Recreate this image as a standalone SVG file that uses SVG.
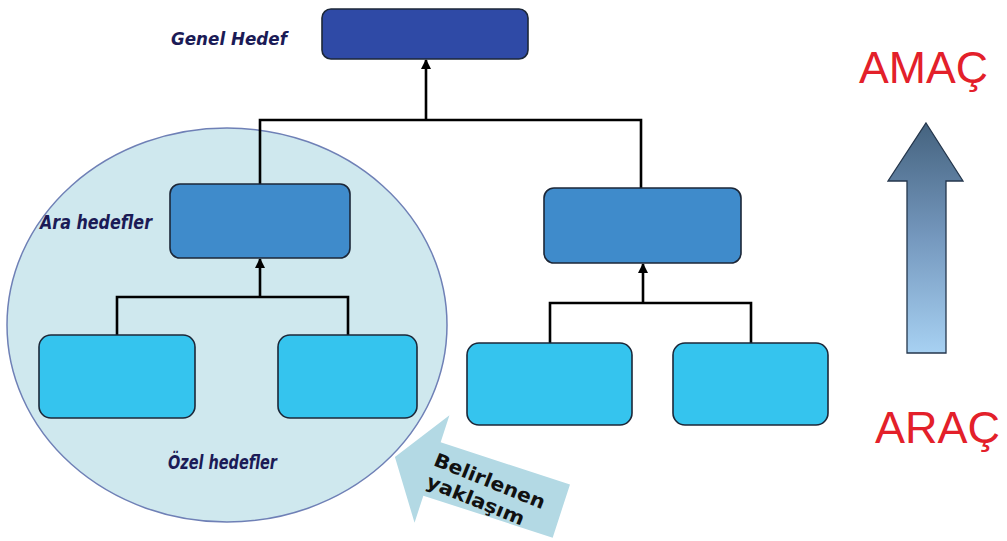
<svg xmlns="http://www.w3.org/2000/svg" width="1007" height="541" viewBox="0 0 1007 541">
  <defs>
    <style>
      .node { stroke: #1c2738; stroke-width: 1.6; }
      .top { fill: #2f4aa6; }
      .mid { fill: #3f8bcb; }
      .leaf { fill: #35c4ee; }
      .link { fill: none; stroke: #000; stroke-width: 2.6; }
      .label { font-family: "DejaVu Sans", Verdana, sans-serif; font-weight: bold; font-style: italic; fill: #1b1b56; }
      .side { font-family: "Liberation Sans", Arial, sans-serif; fill: #e3202a; font-size: 44px; }
      .callout-text { font-family: "DejaVu Sans", Verdana, sans-serif; font-weight: bold; fill: #111; font-size: 19px; }
    </style>
    <marker id="head" viewBox="0 0 10 10" refX="9" refY="5" markerWidth="4" markerHeight="4" orient="auto" markerUnits="strokeWidth">
      <path d="M0,0 L10,5 L0,10 z" fill="#000"/>
    </marker>
    <linearGradient id="scale" x1="0" y1="0" x2="0" y2="1">
      <stop offset="0" stop-color="#45637f"/>
      <stop offset="0.5" stop-color="#7598be"/>
      <stop offset="1" stop-color="#a7d1f2"/>
    </linearGradient>
  </defs>

  <rect width="1007" height="541" fill="#ffffff"/>

  <!-- highlighted area around the left branch -->
  <g id="focus-area">
    <ellipse cx="227" cy="325" rx="220" ry="197" fill="#cfe8ee" stroke="#6f80b6" stroke-width="1.5"/>
  </g>

  <!-- tree connectors -->
  <g id="connectors">
    <path class="link" d="M260,184 V120 H641 V188"/>
    <path class="link" d="M426,120 V60" marker-end="url(#head)"/>
    <path class="link" d="M117,335 V297 H348 V335"/>
    <path class="link" d="M260,297 V259" marker-end="url(#head)"/>
    <path class="link" d="M550,343 V303 H751 V343"/>
    <path class="link" d="M643,303 V264" marker-end="url(#head)"/>
  </g>

  <!-- goal tree nodes -->
  <g id="node-genel">
    <rect class="node top" x="322" y="9" width="206" height="50" rx="9"/>
  </g>
  <g id="node-ara-left">
    <rect class="node mid" x="170" y="184" width="180" height="74" rx="10"/>
  </g>
  <g id="node-ara-right">
    <rect class="node mid" x="544" y="188" width="197" height="75" rx="10"/>
  </g>
  <g id="node-ozel-1">
    <rect class="node leaf" x="39" y="335" width="156" height="83" rx="12"/>
  </g>
  <g id="node-ozel-2">
    <rect class="node leaf" x="278" y="335" width="139" height="83" rx="12"/>
  </g>
  <g id="node-ozel-3">
    <rect class="node leaf" x="467" y="343" width="165" height="82" rx="12"/>
  </g>
  <g id="node-ozel-4">
    <rect class="node leaf" x="673" y="343" width="155" height="82" rx="12"/>
  </g>

  <!-- level labels -->
  <g id="labels">
    <text class="label" x="171" y="45" font-size="18.5" textLength="116" lengthAdjust="spacingAndGlyphs">Genel Hedef</text>
    <text class="label" x="40" y="229" font-size="20" textLength="112" lengthAdjust="spacingAndGlyphs">Ara hedefler</text>
    <text class="label" x="168" y="469" font-size="19.5" textLength="109" lengthAdjust="spacingAndGlyphs">Özel hedefler</text>
  </g>

  <!-- callout pointing at the highlighted branch -->
  <g id="callout" transform="translate(432,469) rotate(18)">
    <path d="M-39,0 L0,-56.5 L0,-28 L136,-28 L136,28 L0,28 L0,56.5 Z" fill="#b3d9e4"/>
    <g transform="rotate(4)">
      <text class="callout-text" x="-1" y="-4" textLength="118" lengthAdjust="spacingAndGlyphs">Belirlenen</text>
      <text class="callout-text" x="0" y="19" textLength="104" lengthAdjust="spacingAndGlyphs">yaklaşım</text>
    </g>
  </g>

  <!-- means-to-end scale on the right -->
  <g id="scale-arrow">
    <path d="M926,123 L963,181 L946,181 L946,353 L907,353 L907,181 L888,181 Z" fill="url(#scale)" stroke="#24364c" stroke-width="1.3"/>
  </g>
  <g id="scale-labels">
    <text class="side" x="859" y="83" textLength="129" lengthAdjust="spacingAndGlyphs">AMAÇ</text>
    <text class="side" x="875" y="443" textLength="125" lengthAdjust="spacingAndGlyphs">ARAÇ</text>
  </g>
</svg>
